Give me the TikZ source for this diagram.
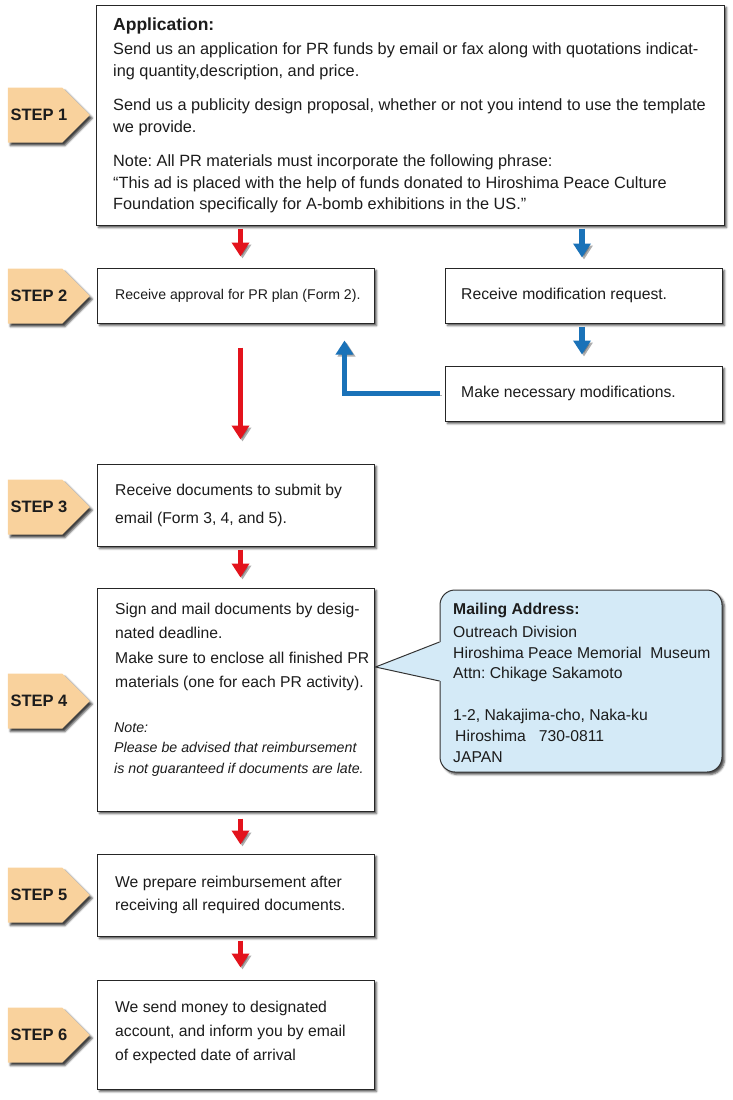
\documentclass[tikz,border=0pt]{standalone}
\usepackage{fontspec}
\setmainfont{Liberation Sans}
\usetikzlibrary{arrows.meta,shapes.symbols,shadows.blur,calc}
\definecolor{tabfill}{HTML}{F9D29D}
\definecolor{calfill}{HTML}{D4EAF7}
\definecolor{arrred}{HTML}{E3131C}
\definecolor{arrblue}{HTML}{1A72B8}
\definecolor{ink}{HTML}{1C1C1C}
\frenchspacing
\begin{document}
\begin{tikzpicture}[x=1pt,y=-1pt,
  box/.style={draw=black!85, line width=1pt, fill=white, inner sep=0pt,
    blur shadow={shadow xshift=2.5pt, shadow yshift=-2.5pt, shadow blur radius=2pt, shadow opacity=70}},
  smallbox/.style={box, minimum width=277, minimum height=55},
  txt/.style={inner sep=0pt, align=left, text=ink, font=\fontsize{15.7}{21}\selectfont},
  tab/.style={signal, signal to=east, signal pointer angle=90, fill=tabfill,
    minimum width=82, minimum height=55, inner sep=0pt,
    blur shadow={shadow xshift=2.5pt, shadow yshift=-3pt, shadow blur radius=2pt, shadow opacity=75}},
  steplbl/.style={inner sep=0pt, text=ink, font=\fontsize{16.5}{18}\selectfont\bfseries},
  arrbase/.style={line width=5.5pt, -{Triangle[width=17pt,length=14pt]},
    preaction={draw=black!70, opacity=0.45, -{Triangle[width=17pt,length=14pt]},
      transform canvas={xshift=2pt,yshift=-2pt}}},
  redarr/.style={arrbase, draw=arrred},
  bluearr/.style={arrbase, draw=arrblue},
  cal/.style={draw=black!80, line width=1pt, fill=calfill, rounded corners=15pt, inner sep=0pt,
    blur shadow={shadow xshift=2.5pt, shadow yshift=-2.5pt, shadow blur radius=2pt, shadow opacity=70}}
]
\useasboundingbox (0,0) rectangle (733,1100);

% ---------- boxes ----------
\node[box, minimum width=628, minimum height=220] (s1) at (410,115) {};
\node[smallbox] (s2a) at (235.5,295.5) {};
\node[smallbox] (s2b) at (583.5,295.5) {};
\node[smallbox] (mod) at (583.5,393.5) {};
\node[box, minimum width=277, minimum height=82] (s3) at (235.5,505) {};
\node[box, minimum width=277, minimum height=223] (s4) at (235.5,699.5) {};
\node[box, minimum width=277, minimum height=82] (s5) at (235.5,895) {};
\node[box, minimum width=277, minimum height=109] (s6) at (235.5,1034.5) {};
\node[cal, minimum width=282, minimum height=182] (cb) at (581,681) {};
\fill[calfill] ($(cb.west)+(1.5,-39)$) -- ($(cb.west)+(-64,-14)$) -- ($(cb.west)+(1.5,0)$) -- cycle;
\draw[black!80, line width=1pt, line join=miter] ($(cb.west)+(0,-39)$) -- ($(cb.west)+(-64,-14)$) -- ($(cb.west)+(0,0)$);

% ---------- texts ----------
\node[txt, anchor=north west, font=\fontsize{16.3}{21.5}\selectfont] (t1) at (113,18)
  {\textbf{\fontsize{17.5}{21.5}\selectfont Application:}\\[2.5pt]
   Send us an application for PR funds by email or fax along with quotations indicat-\\
   ing quantity,description, and price.\\[13pt]
   Send us a publicity design proposal, whether or not you intend to use the template\\
   we provide.\\[13pt]
   Note: All PR materials must incorporate the following phrase:\\
   “This ad is placed with the help of funds donated to Hiroshima Peace Culture\\
   Foundation specifically for A-bomb exhibitions in the US.”};
\node[txt, anchor=west, font=\fontsize{14.1}{18}\selectfont] (t2a) at (115,295.5) {Receive approval for PR plan (Form 2).};
\node[txt, anchor=west] (t2b) at (461,295.5) {Receive modification request.};
\node[txt, anchor=west] (tm) at (461,393) {Make necessary modifications.};
\node[txt, anchor=west, font=\fontsize{15.7}{28}\selectfont] (t3) at (115,505.5)
  {Receive documents to submit by\\email (Form 3, 4, and 5).};
\node[txt, anchor=north west, font=\fontsize{15.7}{24.5}\selectfont] (t4) at (115,602.5)
  {Sign and mail documents by desig-\\nated deadline.\\
   Make sure to enclose all finished PR\\materials (one for each PR activity).};
\node[txt, anchor=north west, font=\fontsize{14.2}{20.5}\selectfont\itshape] (t4n) at (114,722.5)
  {Note:\\Please be advised that reimbursement\\is not guaranteed if documents are late.};
\node[txt, anchor=west, font=\fontsize{15.7}{23}\selectfont] (t5) at (115,895)
  {We prepare reimbursement after\\receiving all required documents.};
\node[txt, anchor=west, font=\fontsize{15.7}{24}\selectfont] (t6) at (115,1032.5)
  {We send money to designated\\account, and inform you by email\\of expected date of arrival};
\node[txt, anchor=north west, font=\fontsize{15.7}{20.8}\selectfont] (tc) at (453,603)
  {\textbf{Mailing Address:}\\[2pt]
   Outreach Division\\
   Hiroshima Peace Memorial\ \ Museum\\
   Attn: Chikage Sakamoto\\[20.8pt]
   1-2, Nakajima-cho, Naka-ku\\
   \hspace*{2pt}Hiroshima\ \ \ 730-0811\\
   JAPAN};

% ---------- step tabs ----------
\foreach \n/\y in {1/115,2/296,3/507,4/701,5/895,6/1035}{
  \node[tab] (tab\n) at (35,\y) {};
  \node[steplbl] (lbl\n) at (39,\y) {STEP \n};
}

% ---------- arrows ----------
\draw[redarr, shorten <=3pt, shorten >=11pt] ($(s1.south -| s2a.north)+(5,0)$) -- ($(s2a.north)+(5,0)$);
\draw[redarr, shorten <=24pt, shorten >=24pt] ($(s2a.south)+(5,0)$) -- ($(s3.north)+(5,0)$);
\draw[redarr, shorten <=3pt, shorten >=10pt] ($(s3.south)+(5,0)$) -- ($(s4.north)+(5,0)$);
\draw[redarr, shorten <=7pt, shorten >=9pt] ($(s4.south)+(5,0)$) -- ($(s5.north)+(5,0)$);
\draw[redarr, shorten <=4pt, shorten >=12pt] ($(s5.south)+(5,0)$) -- ($(s6.north)+(5,0)$);
\draw[bluearr, shorten <=3pt, shorten >=10pt] ($(s1.south -| s2b.north)+(-1.5,0)$) -- ($(s2b.north)+(-1.5,0)$);
\draw[bluearr, shorten <=3pt, shorten >=11pt] ($(s2b.south)+(-1.5,0)$) -- ($(mod.north)+(-1.5,0)$);
\draw[bluearr, line join=miter, shorten <=5pt, shorten >=17pt] (mod.west) -| ($(s2a.south east)+(-30,0)$);
\end{tikzpicture}
\end{document}
